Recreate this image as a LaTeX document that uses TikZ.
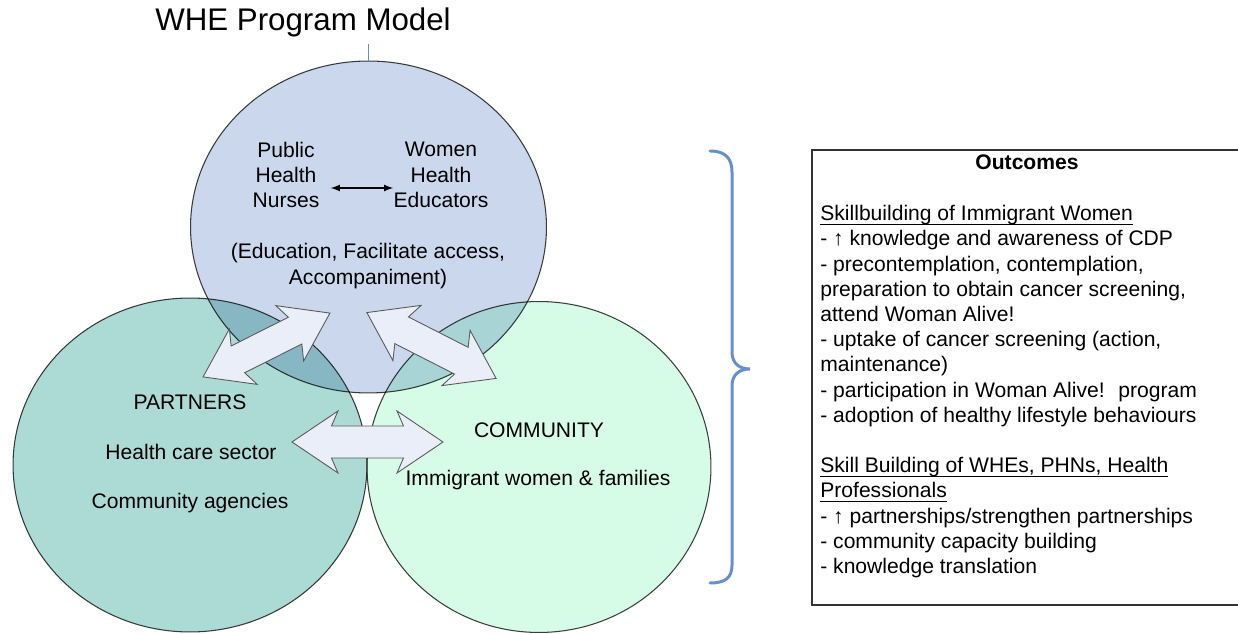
\documentclass[tikz,border=0pt]{standalone}
\usepackage{fontspec}
\setmainfont{Liberation Sans}
\usetikzlibrary{shapes.geometric}

\definecolor{topblue}{RGB}{202,215,236}
\definecolor{partnerteal}{RGB}{172,218,212}
\definecolor{commmint}{RGB}{214,252,232}
\definecolor{arrowfill}{RGB}{233,238,248}
\definecolor{braceblue}{RGB}{102,143,204}

\newcommand{\undl}[1]{\setbox0\hbox{#1}\rlap{\rule[-2.4pt]{\wd0}{0.6pt}}#1}

\tikzset{
  venn/.style={ellipse, draw=black!75, line width=0.6pt, inner sep=0pt, outer sep=0pt},
  bigarrow/.style={draw=black!65, fill=arrowfill, line width=0.5pt},
  lbl/.style={font=\fontsize{12}{14.35}\selectfont, align=center, inner sep=0pt},
}

\begin{document}
\begin{tikzpicture}[x=0.02cm, y=-0.02cm]
\useasboundingbox (0,0) rectangle (1238,634);

\node[font=\fontsize{17.8}{21}\selectfont] (title) at (303,22) {WHE Program Model};

% the three circles
\begin{scope}[blend mode=multiply]
  \node[venn, fill=partnerteal, minimum width=7.08cm, minimum height=6.68cm] (partners) at (190,465) {};
  \node[venn, fill=commmint, minimum width=6.88cm, minimum height=6.62cm] (community) at (539,467) {};
  \node[venn, fill=topblue, minimum width=7.12cm, minimum height=6.64cm] (nurses) at (368.5,227) {};
\end{scope}
\draw[braceblue, line width=0.6pt] (nurses.north) -- ++(0,-17);

% block arrows
\begin{scope}[shift={(266.5,345)}, rotate=26.7]
  \draw[bigarrow] (-71,0) -- (-26,-31) -- (-32,-15) -- (32,-15) -- (26,-31) -- (71,0)
    -- (26,31) -- (32,15) -- (-32,15) -- (-26,31) -- cycle;
\end{scope}
\begin{scope}[shift={(431.5,345.5)}, rotate=-27]
  \draw[bigarrow] (-72.5,0) -- (-27.5,-31) -- (-33.5,-15) -- (33.5,-15) -- (27.5,-31) -- (72.5,0)
    -- (27.5,31) -- (33.5,15) -- (-33.5,15) -- (-27.5,31) -- cycle;
\end{scope}
\begin{scope}[shift={(367.5,442)}]
  \draw[bigarrow] (-75.5,0) -- (-29.5,-31) -- (-36,-16) -- (36,-16) -- (29.5,-31) -- (75.5,0)
    -- (29.5,31) -- (36,16) -- (-36,16) -- (-29.5,31) -- cycle;
\end{scope}

% texts in the circles
\node[lbl] (phn) at (286,175) {Public\\Health\\Nurses};
\node[lbl] (whe) at (441,175) {Women\\Health\\Educators};
\draw[latex-latex, line width=0.8pt] ([xshift=0.22cm, yshift=-0.26cm]phn.east) -- ([yshift=-0.26cm]whe.west);
\node[lbl] (roles) at (368,266) {(Education, Facilitate access,\\Accompaniment)};

\node[lbl] (ptitle) at (190,402) {PARTNERS};
\node[lbl] (health) at (191,452) {Health care sector};
\node[lbl] (agencies) at (190,503) {Community agencies};

\node[lbl] (ctitle) at (539,430) {COMMUNITY};
\node[lbl] (women) at (538,480) {Immigrant women \& families};

% brace
\draw[braceblue, line width=1.7pt, line cap=round]
  (710,151) .. controls (725,151) and (732,158) .. (732,172) -- (732,352)
  .. controls (732,364) and (740,369) .. (750,369)
  .. controls (740,369) and (732,374) .. (732,386) -- (732,565)
  .. controls (732,578) and (725,583) .. (710,583);

% outcomes
\draw[black!80, line width=0.9pt] (812,150) rectangle (1260,605);
\node[lbl, font=\fontsize{12}{14.35}\selectfont\bfseries] (outtitle) at (1027,162) {Outcomes};
\node[lbl, align=left, anchor=north west] (outlist) at (820,205) {%
\undl{Skillbuilding of Immigrant Women}\\
- ↑ knowledge and awareness of CDP\\
- precontemplation, contemplation,\\
preparation to obtain cancer screening,\\
attend Woman Alive!\\
- uptake of cancer screening (action,\\
maintenance)\\
- participation in Woman Alive!~ program\\
- adoption of healthy lifestyle behaviours\\
~\\
\undl{Skill Building of WHEs, PHNs, Health}\\
\undl{Professionals}\\
- ↑ partnerships/strengthen partnerships\\
- community capacity building\\
- knowledge translation};
\end{tikzpicture}
\end{document}
